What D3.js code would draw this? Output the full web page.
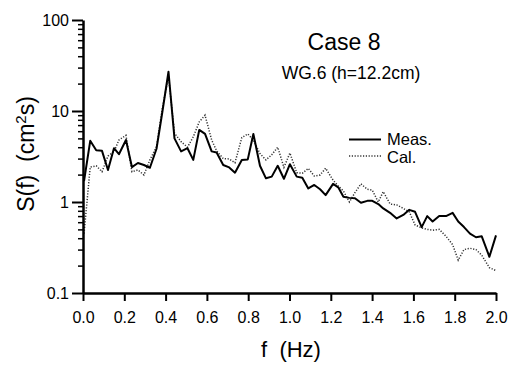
<!DOCTYPE html>
<html>
<head>
<meta charset="utf-8">
<script src="https://cdn.jsdelivr.net/npm/d3@7"></script>
<style>
  body { margin: 0; background: #fff; }
  svg { display: block; font-family: "Liberation Sans", Arial, Helvetica, sans-serif; }
</style>
</head>
<body>
<svg id="chart" width="522" height="365"></svg>
<script>
// ---- data ----
const freq = [0.005,0.035,0.064,0.092,0.121,0.150,0.174,0.208,0.237,0.266,
  0.295,0.324,0.356,0.385,0.414,0.443,0.475,0.506,0.534,0.563,
  0.591,0.623,0.647,0.679,0.708,0.736,0.769,0.798,0.825,0.857,
  0.886,0.914,0.943,0.973,1.002,1.035,1.062,1.091,1.120,1.148,
  1.175,1.211,1.236,1.261,1.290,1.317,1.346,1.377,1.401,1.430,
  1.454,1.487,1.519,1.551,1.580,1.608,1.640,1.667,1.693,1.725,
  1.758,1.790,1.817,1.845,1.874,1.903,1.931,1.968,2.000];

const measured = [1.7,4.7,3.7,3.65,2.25,3.9,3.35,4.8,2.42,2.68,
  2.55,2.38,3.85,10,27,5.0,3.6,3.9,2.9,6.2,
  5.6,3.6,3.5,2.55,2.4,2.1,2.9,2.94,5.6,2.5,
  1.82,1.9,2.5,1.8,2.6,1.9,1.85,1.41,1.54,1.38,
  1.19,1.58,1.45,1.14,1.11,1.1,0.98,1.03,1.03,0.95,
  0.85,0.76,0.66,0.72,0.82,0.78,0.53,0.70,0.61,0.70,
  0.70,0.76,0.61,0.53,0.45,0.41,0.42,0.25,0.43];

const calculated = [0.45,2.42,2.5,2.15,3.2,3.57,4.8,5.4,2.15,2.25,
  1.98,2.9,4.05,11,24,5.7,4.6,4.0,5.2,7.6,
  9.0,4.8,3.66,3.0,2.97,2.7,5.1,5.6,4.8,3.4,
  2.9,3.3,4.0,2.4,3.45,2.1,2.07,2.34,1.93,1.98,
  2.35,1.74,1.5,1.32,1.0,1.27,1.58,1.38,1.35,1.0,
  1.3,0.95,0.93,0.85,0.78,0.56,0.52,0.5,0.49,0.5,
  0.42,0.34,0.23,0.30,0.31,0.30,0.26,0.19,0.176];

const xTicks = [0,0.2,0.4,0.6,0.8,1.0,1.2,1.4,1.6,1.8,2.0];
const yMajor = [0.1,1,10,100];
const yMajorLabels = ["0.1","1","10","100"];
const yMinor = [0.2,0.3,0.4,0.5,0.6,0.7,0.8,0.9,2,3,4,5,6,7,8,9,20,30,40,50,60,70,80,90];

const titleText = "Case 8";
const subtitleText = "WG.6 (h=12.2cm)";
const seriesNames = ["Meas.", "Cal."];

// ---- drawing ----
const svg = d3.select("#chart");
const x = d3.scaleLinear().domain([0, 2]).range([83, 496]);
const y = d3.scaleLog().domain([0.1, 100]).range([293, 20]);

// lines
const line = d3.line().x((d, i) => x(freq[i])).y(d => y(d));

svg.append("path").datum(calculated)
  .attr("d", line).attr("fill", "none")
  .attr("stroke", "#333").attr("stroke-width", 1.5)
  .attr("stroke-dasharray", "1.2,1.6");

svg.append("path").datum(measured)
  .attr("d", line).attr("fill", "none")
  .attr("stroke", "#000").attr("stroke-width", 2)
  .attr("stroke-linejoin", "round");

// x axis
const gx = svg.append("g").attr("transform", "translate(0,293)")
  .call(d3.axisBottom(x).tickValues(xTicks).tickSize(8).tickSizeOuter(0)
    .tickPadding(11).tickFormat(d3.format(".1f")));
gx.select(".domain").attr("stroke-width", 2.5);
gx.selectAll(".tick line").attr("stroke-width", 2);
gx.selectAll("text").attr("font-size", 16).attr("fill", "#000")
  .attr("font-family", "Liberation Sans, Arial, sans-serif");

// y axis minor
const gyMinor = svg.append("g").attr("transform", "translate(83,0)")
  .call(d3.axisLeft(y).tickValues(yMinor).tickSize(5).tickSizeOuter(0).tickFormat(""));
gyMinor.select(".domain").remove();
gyMinor.selectAll(".tick line").attr("stroke-width", 1.5);

// y axis major
const gy = svg.append("g").attr("transform", "translate(83,0)")
  .call(d3.axisLeft(y).tickValues(yMajor).tickSize(11).tickSizeOuter(0)
    .tickPadding(3).tickFormat((d, i) => yMajorLabels[i]));
gy.select(".domain").attr("stroke-width", 2.5);
gy.selectAll(".tick line").attr("stroke-width", 2);
gy.selectAll("text").attr("font-size", 16).attr("fill", "#000")
  .attr("font-family", "Liberation Sans, Arial, sans-serif");

// axis titles
svg.append("text").attr("x", 291).attr("y", 357)
  .attr("text-anchor", "middle").attr("font-size", 22)
  .style("white-space", "pre")
  .text("f  (Hz)");

const yl = svg.append("text")
  .attr("transform", "translate(34,154) rotate(-90)")
  .attr("text-anchor", "middle").attr("font-size", 23)
  .style("white-space", "pre");
yl.append("tspan").text("S(f)  (cm");
yl.append("tspan").attr("font-size", 15).attr("dy", -8).text("2");
yl.append("tspan").attr("dy", 8).text("s)");

// title
svg.append("text").attr("x", 344).attr("y", 50)
  .attr("text-anchor", "middle").attr("font-size", 23).text(titleText);
svg.append("text").attr("x", 351).attr("y", 79)
  .attr("text-anchor", "middle").attr("font-size", 17.5).text(subtitleText);

// legend
const legend = svg.append("g");
legend.append("line").attr("x1", 349).attr("x2", 381).attr("y1", 139.5).attr("y2", 139.5)
  .attr("stroke", "#000").attr("stroke-width", 2);
legend.append("line").attr("x1", 349).attr("x2", 381).attr("y1", 156).attr("y2", 156)
  .attr("stroke", "#333").attr("stroke-width", 1.5).attr("stroke-dasharray", "1.2,1.6");
legend.append("text").attr("x", 387).attr("y", 145).attr("font-size", 16.5).text(seriesNames[0]);
legend.append("text").attr("x", 387).attr("y", 162.5).attr("font-size", 16.5).text(seriesNames[1]);
</script>
</body>
</html>
